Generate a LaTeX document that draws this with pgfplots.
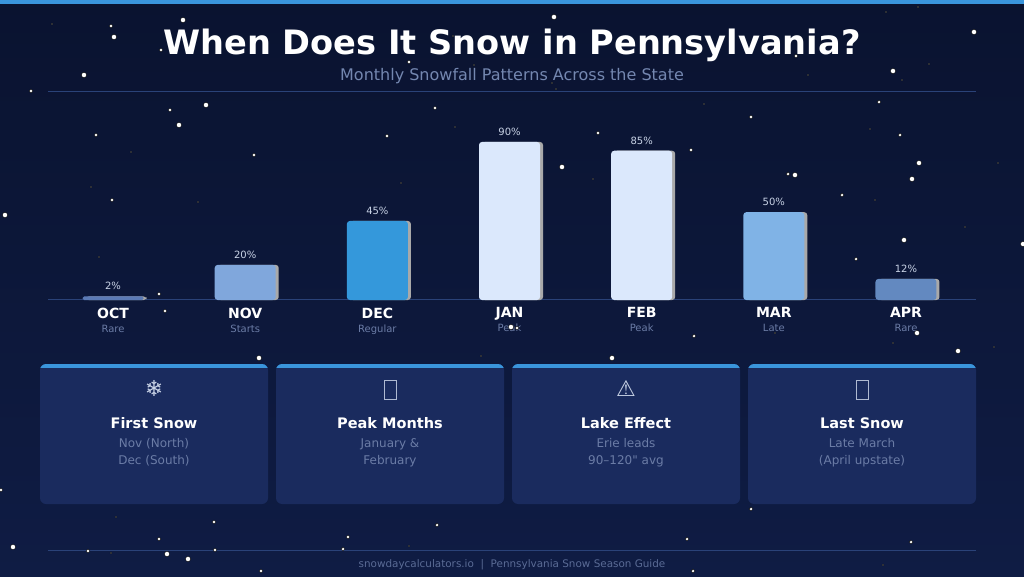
\documentclass[border=0pt]{standalone}
\usepackage{pgfplots}
\pgfplotsset{compat=1.18}
\usepackage{fontspec}
\setmainfont{DejaVu Sans}
\definecolor{bgtop}{HTML}{0A1330}
\definecolor{bgbot}{HTML}{0F1C44}
\definecolor{accent}{HTML}{3A95DC}
\definecolor{rule}{HTML}{2A4278}
\definecolor{subtxt}{HTML}{7487B0}
\definecolor{mutetxt}{HTML}{6B7CA6}
\definecolor{foottxt}{HTML}{5A6B95}
\definecolor{cardfill}{HTML}{1A2B5E}
\definecolor{valtxt}{HTML}{C9D3E6}
\definecolor{shadowgray}{HTML}{A9A9A9}
\definecolor{cOCT}{HTML}{5B7AB5}
\definecolor{cNOV}{HTML}{80A7DC}
\definecolor{cDEC}{HTML}{3498DB}
\definecolor{cJAN}{HTML}{DBE8FC}
\definecolor{cMAR}{HTML}{80B3E6}
\definecolor{cAPR}{HTML}{6389C0}

\newcommand{\card}[5]{%
  \begin{scope}
    \fill[cardfill, rounded corners=6pt] (#1,364) rectangle (#1+228,504);
    \clip[rounded corners=6pt] (#1,364) rectangle (#1+228,504);
    \fill[accent] (#1,364) rectangle (#1+228,368);
  \end{scope}
  #2
  \node[anchor=base, text=white, font=\fontsize{14.5}{17}\selectfont\bfseries] at (#1+114,428) {#3};
  \node[anchor=base, text=mutetxt, font=\fontsize{12}{14}\selectfont] at (#1+114,447) {#4};
  \node[anchor=base, text=mutetxt, font=\fontsize{12}{14}\selectfont] at (#1+114,464) {#5};
}

\begin{document}
\begin{tikzpicture}
% page decoration, image pixel coordinates (y down)
\begin{scope}[x=1pt, y=-1pt, yshift=576pt]
  \shade[top color=bgtop, bottom color=bgbot] (0,0) rectangle (1024,576);
  \fill[accent] (0,0) rectangle (1024,4.5);
  \node[anchor=base, text=white, font=\fontsize{33.6}{38}\selectfont\bfseries] at (512,54.5) {When Does It Snow in Pennsylvania?};
  \node[anchor=base, text=subtxt, font=\fontsize{16}{18}\selectfont] at (512,81) {Monthly Snowfall Patterns Across the State};
  \draw[rule, line width=1pt] (48,92) -- (976,92);
  \draw[rule, line width=1pt] (48,300) -- (976,300);

  \card{40}{\node[text=valtxt, font=\fontsize{22}{24}\selectfont] at (154,388) {❄};}
    {First Snow}{Nov (North)}{Dec (South)}
  \card{276}{\draw[valtxt!85!cardfill, line width=0.9pt] (384.5,380.5) rectangle (396,399);}
    {Peak Months}{January \&}{February}
  \card{512}{\node[text=valtxt, font=\fontsize{22}{24}\selectfont] at (626,388) {⚠};}
    {Lake Effect}{Erie leads}{90–120\textquotedbl{} avg}
  \card{748}{\draw[valtxt!85!cardfill, line width=0.9pt] (856.5,380.5) rectangle (868,399);}
    {Last Snow}{Late March}{(April upstate)}

  \draw[rule, line width=1pt] (48,550) -- (976,550);
  \node[anchor=base, text=foottxt, font=\fontsize{10.4}{12}\selectfont] at (512,567) {snowdaycalculators.io \ | \ Pennsylvania Snow Season Guide};
\end{scope}

% bar chart
\begin{axis}[
    at={(48pt,276pt)}, anchor=south west,
    scale only axis, width=928pt, height=175.6pt,
    xmin=-0.4924, xmax=6.530, ymin=0, ymax=100,
    axis line style={draw=none},
    major tick style={draw=none},
    ytick=\empty,
    xtick={0,1,2,3,4,5,6},
    xticklabels={
      {OCT\\[0pt]{\fontsize{10}{12}\selectfont\mdseries\color{mutetxt}Rare}},
      {NOV\\[0pt]{\fontsize{10}{12}\selectfont\mdseries\color{mutetxt}Starts}},
      {DEC\\[0pt]{\fontsize{10}{12}\selectfont\mdseries\color{mutetxt}Regular}},
      {JAN\\[0pt]{\fontsize{10}{12}\selectfont\mdseries\color{mutetxt}Peak}},
      {FEB\\[0pt]{\fontsize{10}{12}\selectfont\mdseries\color{mutetxt}Peak}},
      {MAR\\[0pt]{\fontsize{10}{12}\selectfont\mdseries\color{mutetxt}Late}},
      {APR\\[0pt]{\fontsize{10}{12}\selectfont\mdseries\color{mutetxt}Rare}}},
    xticklabel style={align=center, anchor=north, inner sep=0pt, yshift=-7.5pt,
      text=white, font=\fontsize{14}{14}\selectfont\bfseries},
    clip=false,
    every node near coord/.append style={anchor=base, yshift=6.5pt,
      text=valtxt, font=\fontsize{10}{12}\selectfont},
    nodes near coords={\pgfmathprintnumber[assume math mode=true]{\pgfplotspointmeta}\%},
]
% shadows
\addplot[ybar, bar width=61pt, bar shift=3pt, fill=shadowgray, draw=none, rounded corners=3pt, nodes near coords=]
  coordinates {(0,2) (1,20) (2,45) (3,90) (4,85) (5,50) (6,12)};
\addplot[ybar, bar width=61pt, bar shift=0pt, fill=cOCT, draw=none, rounded corners=1.5pt] coordinates {(0,2)};
\addplot[ybar, bar width=61pt, bar shift=0pt, fill=cNOV, draw=none, rounded corners=3pt] coordinates {(1,20)};
\addplot[ybar, bar width=61pt, bar shift=0pt, fill=cDEC, draw=none, rounded corners=3pt] coordinates {(2,45)};
\addplot[ybar, bar width=61pt, bar shift=0pt, fill=cJAN, draw=none, rounded corners=3pt] coordinates {(3,90)};
\addplot[ybar, bar width=61pt, bar shift=0pt, fill=cJAN, draw=none, rounded corners=3pt] coordinates {(4,85)};
\addplot[ybar, bar width=61pt, bar shift=0pt, fill=cMAR, draw=none, rounded corners=3pt] coordinates {(5,50)};
\addplot[ybar, bar width=61pt, bar shift=0pt, fill=cAPR, draw=none, rounded corners=3pt] coordinates {(6,12)};
\end{axis}

% falling snow, image pixel coordinates
\begin{axis}[
    at={(0pt,0pt)}, anchor=south west,
    scale only axis, width=1024pt, height=576pt,
    xmin=0, xmax=1024, ymin=0, ymax=576, y dir=reverse,
    hide axis, clip=false,
]
\addplot[only marks, mark=*, mark size=2.6pt, mark options={fill=white, draw=none}] coordinates {
  (114,37) (183,20) (84,75) (206,105) (179,125) (5,215) (259,358) (974,32)
  (893,71) (919,163) (795,175) (912,179) (904,240) (1023,244) (917,333)
  (958,351) (562,167) (511,327) (612,358) (554,17) (13,547) (167,554) (188,559)
};
\addplot[only marks, mark=*, mark size=1.8pt, mark options={fill=white, draw=none}] coordinates {
  (111,26) (161,50) (31,91) (170,110) (96,135) (254,155) (112,200) (159,294)
  (165,311) (796,56) (879,102) (751,117) (900,135) (691,150) (788,174) (842,195)
  (856,259) (694,336) (598,133) (409,62) (435,108) (387,136) (517,328) (214,522)
  (159,539) (88,551) (215,550) (261,571) (348,537) (343,549) (437,525) (751,509)
  (687,539) (693,571) (911,542) (1,490)
};
\addplot[only marks, mark=*, mark size=0.9pt, mark options={fill=white, draw=none}] coordinates {
  (52,24) (131,152) (91,187) (198,202) (99,257) (886,12) (918,7) (808,75)
  (902,80) (929,64) (704,104) (870,129) (998,163) (875,200) (965,227) (775,333)
  (893,343) (994,347) (453,36) (474,65) (552,83) (556,89) (455,127) (401,183)
  (593,179) (481,356) (116,517) (111,553) (409,546) (883,565)
};
\end{axis}
\pgfresetboundingbox
\path[use as bounding box] (0,0) rectangle (1024pt,576pt);
\end{tikzpicture}
\end{document}
